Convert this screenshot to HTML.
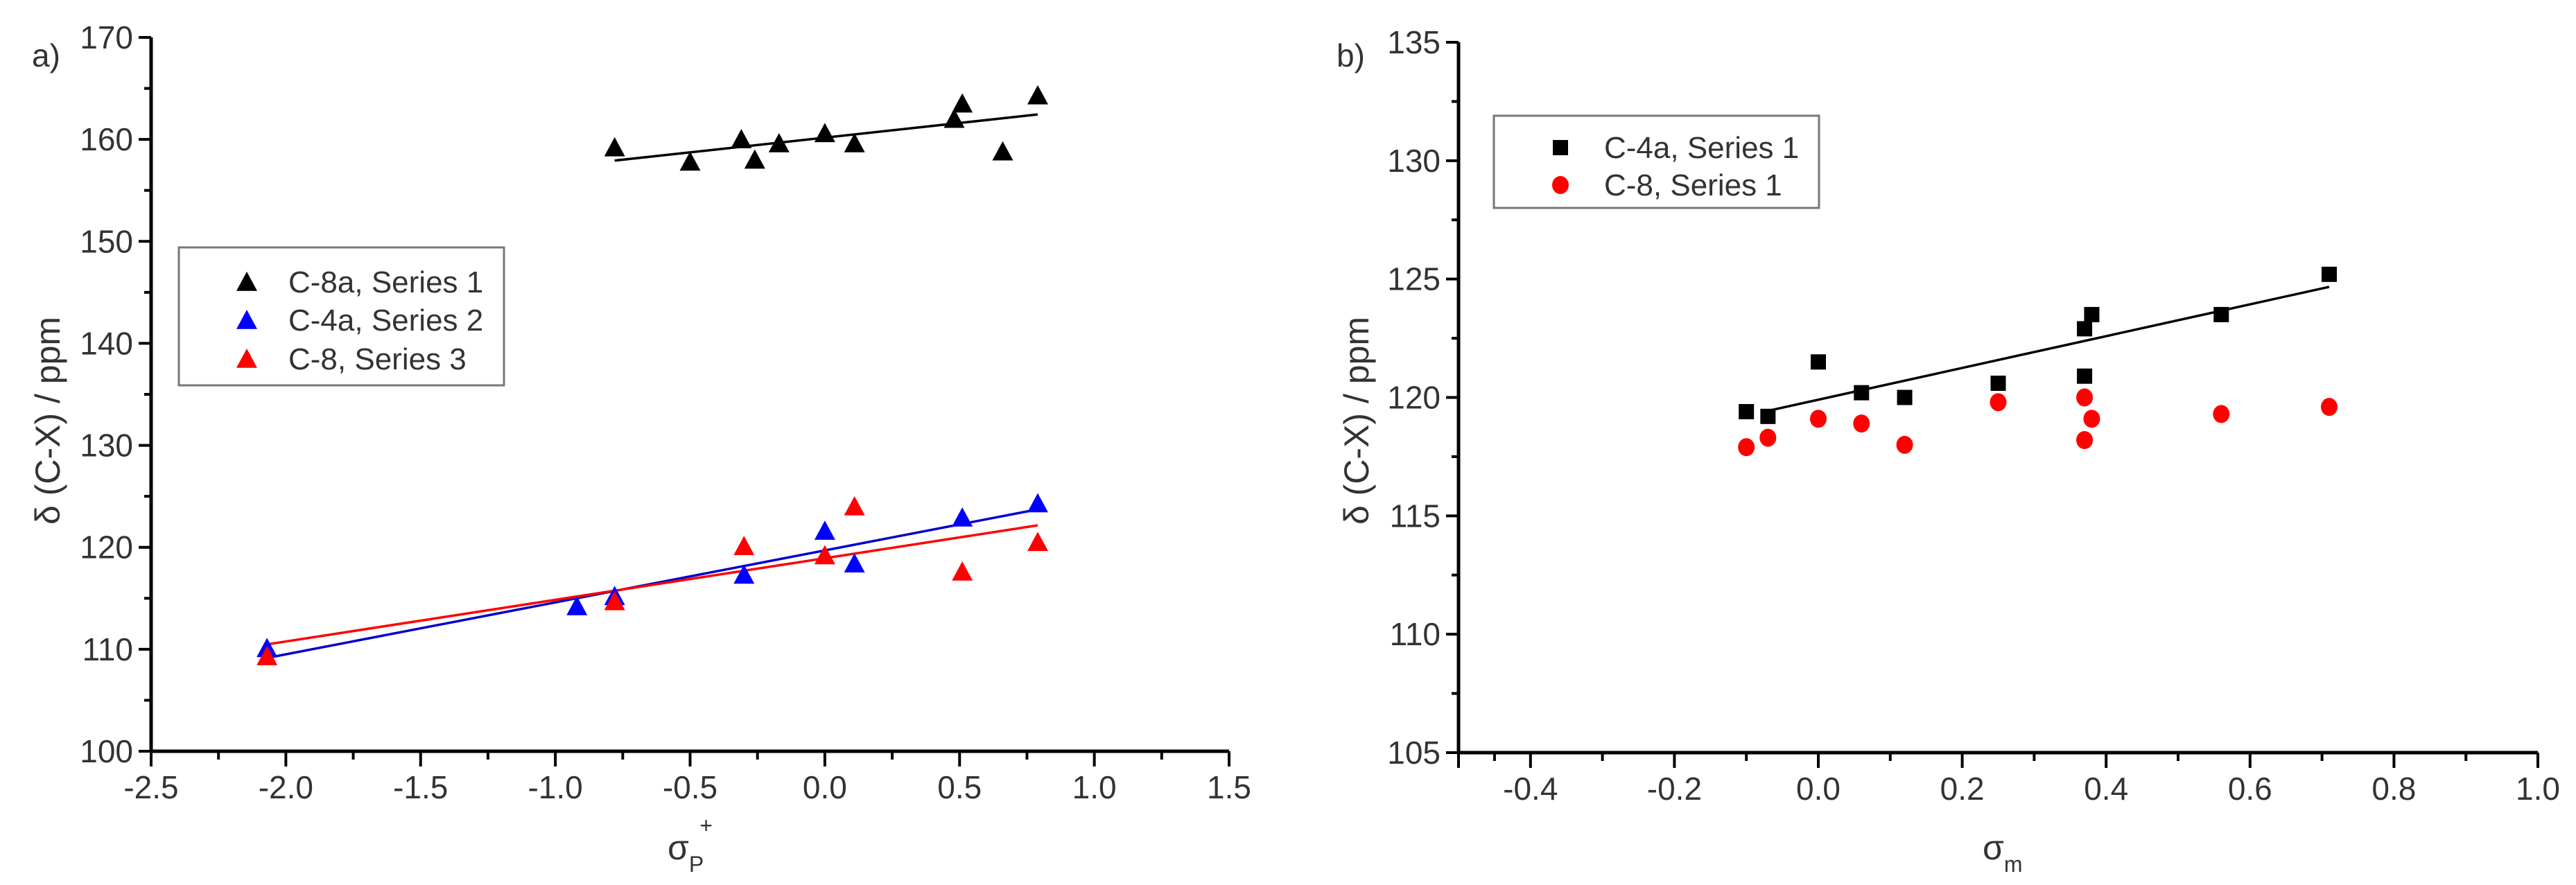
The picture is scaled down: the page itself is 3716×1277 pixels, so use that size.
<!DOCTYPE html>
<html><head><meta charset="utf-8"><style>
html,body{margin:0;padding:0;background:#fff;}
svg{display:block;font-family:"Liberation Sans",Arial,sans-serif;}
</style></head><body>
<svg id="chart" width="3716" height="1277" viewBox="0 0 3716 1277" xmlns="http://www.w3.org/2000/svg">
<rect width="3716" height="1277" fill="#fff"/>
<g id="pa"></g>
<g id="pb"></g>
</svg>
<script>
// Panel a data
const aBlackX=[-0.78,-0.5,-0.31,-0.26,-0.17,0.0,0.11,0.48,0.51,0.66,0.79];
const aBlackY=[159.2,157.8,160.0,158.0,159.6,160.6,159.6,162.0,163.5,158.8,164.3];
const aBlueX=[-2.07,-0.92,-0.78,-0.3,0.0,0.11,0.51,0.79];
const aBlueY=[110.1,114.2,115.2,117.3,121.6,118.4,122.9,124.3];
const aRedX=[-2.07,-0.78,-0.3,0.0,0.11,0.51,0.79];
const aRedY=[109.3,114.7,120.1,119.2,124.0,117.6,120.5];
const aXTicks=[-2.5,-2.0,-1.5,-1.0,-0.5,0.0,0.5,1.0,1.5];
const aYTicks=[100,110,120,130,140,150,160,170];
// Panel b data
const bSqX=[-0.1,-0.07,0.0,0.06,0.12,0.25,0.37,0.37,0.38,0.56,0.71];
const bSqY=[119.4,119.2,121.5,120.2,120.0,120.6,120.9,122.9,123.5,123.5,125.2];
const bCiX=[-0.1,-0.07,0.0,0.06,0.12,0.25,0.37,0.37,0.38,0.56,0.71];
const bCiY=[117.9,118.3,119.1,118.9,118.0,119.8,120.0,118.2,119.1,119.3,119.6];
const bXTicks=[-0.4,-0.2,0.0,0.2,0.4,0.6,0.8,1.0];
const bYTicks=[105,110,115,120,125,130,135];

const NS="http://www.w3.org/2000/svg";
function mk(parent,tag,attrs,text){const e=document.createElementNS(NS,tag);for(const k in attrs)e.setAttribute(k,attrs[k]);if(text!==undefined)e.textContent=text;parent.appendChild(e);return e;}
function fit(xs,ys){const n=xs.length;let sx=0,sy=0,sxx=0,sxy=0;for(let i=0;i<n;i++){sx+=xs[i];sy+=ys[i];sxx+=xs[i]*xs[i];sxy+=xs[i]*ys[i];}const m=(n*sxy-sx*sy)/(n*sxx-sx*sx);return {m:m,b:(sy-m*sx)/n};}

function axes(g,o){
  const sx=v=>o.x0+(v-o.xmin)/(o.xmax-o.xmin)*(o.x1-o.x0);
  const sy=v=>o.y0-(v-o.ymin)/(o.ymax-o.ymin)*(o.y0-o.y1);
  const ax=mk(g,'line',{x1:o.x0,y1:o.y0,x2:o.x1,y2:o.y0,stroke:'#000','stroke-width':5});
  
  const ay=mk(g,'line',{x1:o.x0,y1:o.y0,x2:o.x0,y2:o.y1,stroke:'#000','stroke-width':5});
  
  o.xt.forEach((v,i)=>{
    const x=sx(v);
    mk(g,'line',{x1:x,y1:o.y0,x2:x,y2:o.y0+22,stroke:'#000','stroke-width':4});
    if(i<o.xt.length-1){const xm=(x+sx(o.xt[i+1]))/2;mk(g,'line',{x1:xm,y1:o.y0,x2:xm,y2:o.y0+12,stroke:'#000','stroke-width':4});}
    const t=mk(g,'text',{x:x,y:o.y0+68,'font-size':46,'text-anchor':'middle',fill:'#333'},v.toFixed(1));
    
  });
  o.yt.forEach((v,i)=>{
    const y=sy(v);
    mk(g,'line',{x1:o.x0,y1:y,x2:o.x0-18,y2:y,stroke:'#000','stroke-width':4});
    if(i<o.yt.length-1){const ym=(y+sy(o.yt[i+1]))/2;mk(g,'line',{x1:o.x0,y1:ym,x2:o.x0-10,y2:ym,stroke:'#000','stroke-width':4});}
    const t=mk(g,'text',{x:o.x0-26,y:y+16,'font-size':46,'text-anchor':'end',fill:'#333'},String(v));
    
  });
  return {sx,sy};
}
function tri(g,x,y,c,name){const s=15;const p=mk(g,'polygon',{points:`${x},${y-s} ${x-s},${y+s*0.85} ${x+s},${y+s*0.85}`,fill:c});return p;}
function sq(g,x,y,name){const p=mk(g,'rect',{x:x-11,y:y-11,width:22,height:22,fill:'#000'});}
function circ(g,x,y,name){const p=mk(g,'ellipse',{cx:x,cy:y,rx:12,ry:13,fill:'#f00'});}
function fitLine(g,sx,sy,xs,ys,c,name){const f=fit(xs,ys);const a=Math.min(...xs),b=Math.max(...xs);const l=mk(g,'line',{x1:sx(a),y1:sy(f.m*a+f.b),x2:sx(b),y2:sy(f.m*b+f.b),stroke:c,'stroke-width':3.5});}

// Panel a
const ga=document.getElementById('pa');
const A=axes(ga,{x0:218,x1:1773,y0:1084,y1:54,xmin:-2.5,xmax:1.5,ymin:100,ymax:170,xt:aXTicks,yt:aYTicks});
fitLine(ga,A.sx,A.sy,aBlackX,aBlackY,'#000','fit-line-c8a');
fitLine(ga,A.sx,A.sy,aBlueX,aBlueY,'#00c','fit-line-c4a');
fitLine(ga,A.sx,A.sy,aRedX,aRedY,'#f00','fit-line-c8');
aBlackX.forEach((v,i)=>tri(ga,A.sx(v),A.sy(aBlackY[i]),'#000','point-c8a'));
aBlueX.forEach((v,i)=>tri(ga,A.sx(v),A.sy(aBlueY[i]),'#00f','point-c4a'));
aRedX.forEach((v,i)=>tri(ga,A.sx(v),A.sy(aRedY[i]),'#f00','point-c8'));
let t;
t=mk(ga,'text',{x:46,y:96,'font-size':46,fill:'#333'},'a)');
t=mk(ga,'text',{x:86,y:607,'font-size':50,fill:'#333','text-anchor':'middle',transform:'rotate(-90 86 607)'},'δ (C-X) / ppm');
t=mk(ga,'text',{x:963,y:1240,'font-size':50,fill:'#333'},'σ');
mk(t,'tspan',{dy:18,'font-size':32},'P');mk(t,'tspan',{dx:-6,dy:-56,'font-size':32},'+');
const la=mk(ga,'g',{});
mk(la,'rect',{x:258,y:357,width:469,height:199,fill:'#fff',stroke:'#777','stroke-width':3});
[['#000','C-8a, Series 1',407],['#00f','C-4a, Series 2',462],['#f00','C-8, Series 3',518]].forEach(r=>{
  const e=mk(la,'g',{});
  tri(e,356,r[2],r[0],'legend-marker');
  mk(e,'text',{x:416,y:r[2]+15,'font-size':44,fill:'#333'},r[1]);
});

// Panel b
const gb=document.getElementById('pb');
const B=axes(gb,{x0:2104,x1:3661,y0:1086,y1:61,xmin:-0.5,xmax:1.0,ymin:105,ymax:135,xt:bXTicks,yt:bYTicks});
mk(gb,'line',{x1:2104,y1:1086,x2:2104,y2:1108,stroke:'#000','stroke-width':4});
mk(gb,'line',{x1:(2104+B.sx(-0.4))/2,y1:1086,x2:(2104+B.sx(-0.4))/2,y2:1098,stroke:'#000','stroke-width':4});
fitLine(gb,B.sx,B.sy,bSqX.slice(1),bSqY.slice(1),'#000','fit-line-c4a-b');
bSqX.forEach((v,i)=>sq(gb,B.sx(v),B.sy(bSqY[i]),'point-c4a-b'));
bCiX.forEach((v,i)=>circ(gb,B.sx(v),B.sy(bCiY[i]),'point-c8-b'));
t=mk(gb,'text',{x:1928,y:96,'font-size':46,fill:'#333'},'b)');
t=mk(gb,'text',{x:1974,y:607,'font-size':50,fill:'#333','text-anchor':'middle',transform:'rotate(-90 1974 607)'},'δ (C-X) / ppm');
t=mk(gb,'text',{x:2860,y:1240,'font-size':50,fill:'#333'},'σ');
mk(t,'tspan',{dy:18,'font-size':32},'m');
const lb=mk(gb,'g',{});
mk(lb,'rect',{x:2155,y:167,width:469,height:133,fill:'#fff',stroke:'#777','stroke-width':3});
let e1=mk(lb,'g',{});
sq(e1,2251,213,'legend-marker');mk(e1,'text',{x:2314,y:228,'font-size':44,fill:'#333'},'C-4a, Series 1');
let e2=mk(lb,'g',{});
circ(e2,2251,267,'legend-marker');mk(e2,'text',{x:2314,y:282,'font-size':44,fill:'#333'},'C-8, Series 1');
</script>
</body></html>
